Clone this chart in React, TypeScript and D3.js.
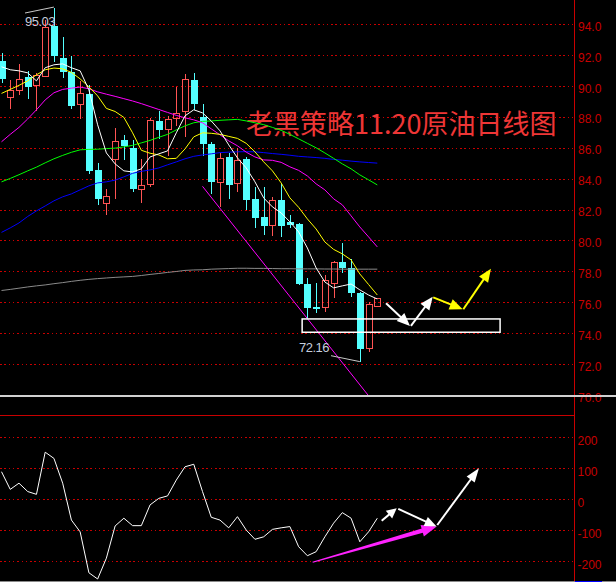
import React from 'react';
import * as d3 from 'd3';

const W = 616;
const H = 582;

// Daily crude oil bars (oldest first)
const opens = [91.62, 89.24, 89.70, 90.56, 90.05, 90.60, 93.88, 91.79, 90.89, 88.82, 89.46, 84.56, 82.41, 85.26, 86.50, 85.99, 83.31, 83.64, 87.73, 87.20, 87.90, 88.34, 90.39, 88.01, 86.23, 83.77, 85.38, 83.66, 85.28, 82.69, 81.54, 80.94, 82.62, 81.22, 81.05, 77.18, 75.72, 75.65, 77.23, 78.63, 78.20, 76.62, 73.02, 75.72];
const highs = [92.12, 90.39, 91.40, 90.93, 90.86, 94.23, 95.03, 93.19, 91.94, 90.32, 90.06, 85.02, 83.31, 87.26, 86.83, 86.50, 85.26, 87.90, 88.38, 88.06, 89.94, 90.76, 90.82, 88.83, 86.36, 85.64, 85.64, 86.01, 85.38, 83.44, 83.44, 82.83, 83.64, 81.65, 81.11, 77.55, 77.23, 77.77, 78.69, 79.82, 78.78, 76.69, 76.04, 76.30];
const lows = [90.17, 88.49, 89.42, 89.14, 88.34, 90.58, 91.51, 90.50, 88.49, 87.84, 84.30, 82.30, 81.65, 82.70, 85.21, 83.14, 82.41, 83.43, 86.54, 85.47, 87.37, 86.72, 88.45, 85.47, 83.01, 82.19, 82.67, 83.16, 81.97, 80.83, 80.36, 80.29, 80.21, 80.79, 77.12, 74.96, 75.29, 75.39, 76.30, 77.88, 76.36, 72.16, 72.80, 75.70];
const closes = [90.43, 89.68, 90.39, 89.95, 90.65, 93.80, 91.90, 90.89, 88.71, 89.53, 84.50, 82.67, 82.83, 86.40, 86.08, 83.33, 83.56, 87.78, 87.15, 87.80, 88.23, 90.43, 88.83, 86.21, 83.77, 85.32, 83.59, 85.17, 82.62, 81.44, 80.94, 82.56, 80.94, 81.00, 77.18, 75.65, 75.57, 77.38, 78.56, 78.24, 76.62, 72.98, 75.83, 76.26];

// Moving averages
const maWhite = [91.23, 91.04, 90.97, 90.84, 90.32, 91.17, 91.36, 91.42, 91.17, 90.97, 89.74, 87.48, 85.66, 84.95, 84.50, 84.43, 84.63, 85.40, 85.60, 85.79, 86.96, 88.06, 88.45, 88.25, 87.73, 87.09, 86.18, 85.34, 84.69, 83.79, 82.75, 82.17, 81.78, 81.20, 80.55, 79.51, 78.22, 77.31, 76.93, 77.06, 77.18, 76.80, 76.47, 76.21];
const maYellow = [89.51, 89.77, 90.03, 90.32, 90.71, 91.04, 91.15, 91.10, 90.87, 90.45, 89.94, 89.35, 88.54, 88.34, 87.96, 86.96, 85.83, 85.64, 85.53, 85.28, 85.31, 85.92, 86.70, 86.96, 86.93, 86.86, 86.73, 86.60, 86.28, 85.73, 85.08, 84.50, 83.72, 82.75, 82.14, 81.39, 80.74, 79.90, 79.42, 79.13, 78.74, 77.83, 77.15, 76.47];
const maMagenta = [86.38, 86.86, 87.31, 87.86, 88.45, 89.09, 89.55, 89.77, 89.85, 89.92, 89.81, 89.61, 89.46, 89.32, 89.17, 89.02, 88.85, 88.66, 88.47, 88.28, 88.09, 87.93, 87.80, 87.61, 87.22, 86.83, 86.44, 86.12, 85.71, 85.40, 85.21, 85.18, 85.05, 84.76, 84.53, 84.17, 83.66, 83.27, 82.69, 82.30, 81.59, 80.87, 80.23, 79.58];
const maGreen = [83.79, 84.01, 84.25, 84.50, 84.74, 85.02, 85.28, 85.50, 85.70, 85.86, 85.89, 85.90, 85.94, 85.97, 86.05, 86.15, 86.31, 86.47, 86.67, 86.86, 87.15, 87.41, 87.61, 87.70, 87.73, 87.77, 87.80, 87.83, 87.73, 87.61, 87.49, 87.31, 87.12, 86.86, 86.57, 86.28, 85.99, 85.66, 85.31, 84.95, 84.63, 84.24, 83.92, 83.59];
const maBlue = [80.52, 80.81, 81.13, 81.55, 81.91, 82.23, 82.56, 82.82, 83.01, 83.27, 83.53, 83.72, 83.79, 83.90, 84.11, 84.34, 84.47, 84.56, 84.69, 84.89, 85.08, 85.28, 85.44, 85.53, 85.60, 85.68, 85.71, 85.73, 85.74, 85.73, 85.68, 85.62, 85.57, 85.51, 85.44, 85.40, 85.36, 85.31, 85.24, 85.19, 85.13, 85.08, 85.04, 85.00];
const maGrey = [76.76, 76.83, 76.91, 76.99, 77.06, 77.12, 77.20, 77.27, 77.35, 77.42, 77.48, 77.53, 77.57, 77.61, 77.64, 77.67, 77.73, 77.80, 77.86, 77.93, 77.99, 78.06, 78.09, 78.10, 78.14, 78.16, 78.18, 78.20, 78.20, 78.19, 78.19, 78.18, 78.17, 78.17, 78.16, 78.16, 78.16, 78.15, 78.15, 78.14, 78.14, 78.14, 78.14, 78.14];

// Oscillator (lower pane)
const osc = [89, 32, 52, 25, 16, 152, 132, 52, -67, -105, -237, -257, -190, -86, -61, -85, -85, -18, 3, 11, 62, 105, 113, 25, -58, -67, -92, -56, -99, -129, -121, -97, -92, -88, -153, -182, -169, -121, -77, -43, -61, -137, -105, -61];

const priceTicks = [94, 92, 90, 88, 86, 84, 82, 80, 78, 76, 74, 72, 70];
const oscTicks = [200, 100, 0, -100, -200];

const titleText = '老黑策略11.20原油日线图';
const highText = '95.03';
const lowText = '72.16';

// Drawn annotations, in (bar index, price) / (bar index, oscillator value)
const supportZone = { from: 34.4, to: 57.05, low: 74.06, high: 74.92 };
const channel: [number, number][] = [[23, 83.5], [42, 69.95]];
const priceArrows = [
  { color: '#ffffff', from: [44.0, 75.94], to: [46.74, 74.47] },
  { color: '#ffffff', from: [46.85, 74.47], to: [49.34, 76.36] },
  { color: '#ffff00', from: [49.4, 76.32], to: [52.77, 75.55] },
  { color: '#ffff00', from: [52.84, 75.55], to: [56.0, 78.16] },
];
const oscArrows = [
  { color: '#ffffff', from: [43.5, -69], to: [45.22, -29], head: 10 },
  { color: '#ffffff', from: [45.4, -31], to: [49.79, -88], head: 12 },
  { color: '#ffffff', from: [49.86, -83], to: [54.63, 100], head: 14 },
];
const oscTrendArrow = { color: '#ff22ff', from: [35.6, -203], to: [49.79, -88] };

const RED = '#c80000';
const UP = '#ff5454';
const DOWN = '#54ffff';

const x = d3.scaleLinear().domain([0, 43]).range([1.5, 377.3]);
const yP = d3.scaleLinear().domain([70, 94]).range([395, 24]);
const yO = d3.scaleLinear().domain([-200, 200]).range([561.3, 437.3]);

function arrowShapes(p0: number[], p1: number[], color: string, width: number, headLen: number, headHalf: number, taper = false) {
  const dx = p1[0] - p0[0];
  const dy = p1[1] - p0[1];
  const len = Math.hypot(dx, dy);
  const ux = dx / len, uy = dy / len;
  const nx = -uy, ny = ux;
  const bx = p1[0] - ux * headLen, by = p1[1] - uy * headLen;
  const head = `${p1[0]},${p1[1]} ${bx + nx * headHalf},${by + ny * headHalf} ${bx - nx * headHalf},${by - ny * headHalf}`;
  if (taper) {
    const w0 = 0.6, w1 = width;
    const shaft = `${p0[0] + nx * w0},${p0[1] + ny * w0} ${bx + ux + nx * w1},${by + uy + ny * w1} ${bx + ux - nx * w1},${by + uy - ny * w1} ${p0[0] - nx * w0},${p0[1] - ny * w0}`;
    return (
      <g>
        <polygon points={shaft} fill={color} />
        <polygon points={head} fill={color} />
      </g>
    );
  }
  return (
    <g>
      <line x1={p0[0]} y1={p0[1]} x2={bx + ux * 2} y2={by + uy * 2} stroke={color} strokeWidth={width} />
      <polygon points={head} fill={color} />
    </g>
  );
}

export default function App() {
  const priceLine = d3.line<number>().x((_, i) => x(i)).y((d) => yP(d));
  const oscLine = d3.line<number>().x((_, i) => x(i)).y((d) => yO(d));

  const maSeries = [
    { data: maGrey, color: '#8a8a8a' },
    { data: maBlue, color: '#0000ff' },
    { data: maGreen, color: '#00ff00' },
    { data: maMagenta, color: '#ff00ff' },
    { data: maYellow, color: '#ffff00' },
    { data: maWhite, color: '#ffffff' },
  ];

  const hiIdx = highs.indexOf(d3.max(highs) as number);
  const loIdx = lows.indexOf(d3.min(lows) as number);

  return (
    <svg width={W} height={H} style={{ position: 'fixed', left: 0, top: 0, display: 'block', background: '#000' }}>
      <defs>
        <clipPath id="mainClip"><rect x={0} y={0} width={574} height={396} /></clipPath>
        <clipPath id="oscClip"><rect x={0} y={416} width={574} height={165} /></clipPath>
      </defs>
      <rect x={0} y={0} width={W} height={H} fill="#000" />

      {/* price grid */}
      {priceTicks.filter((t) => t > 70).map((t) => (
        <line key={t} x1={0} x2={574} y1={Math.round(yP(t)) + 0.5} y2={Math.round(yP(t)) + 0.5}
          stroke={RED} strokeWidth={1} strokeDasharray="1.5 2.8" shapeRendering="crispEdges" />
      ))}

      {/* oscillator grid */}
      {oscTicks.map((t) => (
        <line key={t} x1={0} x2={574} y1={Math.round(yO(t)) + 0.5} y2={Math.round(yO(t)) + 0.5}
          stroke={RED} strokeWidth={1} strokeDasharray="1.5 2.8" shapeRendering="crispEdges" />
      ))}

      <text x={246} y={134} fill="#ee3636" fontSize={27} fontFamily="'Noto Sans CJK SC', sans-serif">{titleText}</text>

      <g clipPath="url(#mainClip)">
        {/* candles */}
        {opens.map((o, i) => {
          const c = closes[i];
          const cx = Math.round(x(i)) + 0.5;
          const up = c >= o;
          const top = yP(Math.max(o, c));
          const bot = yP(Math.min(o, c));
          if (up) {
            return (
              <g key={i} shapeRendering="crispEdges">
                <line x1={cx} x2={cx} y1={yP(highs[i])} y2={top} stroke={UP} />
                <line x1={cx} x2={cx} y1={bot} y2={yP(lows[i])} stroke={UP} />
                <rect x={cx - 3} y={top} width={6} height={Math.max(1, bot - top)} fill="none" stroke={UP} strokeWidth={1} />
              </g>
            );
          }
          return (
            <g key={i} shapeRendering="crispEdges">
              <line x1={cx} x2={cx} y1={yP(highs[i])} y2={yP(lows[i])} stroke={DOWN} />
              <rect x={cx - 3.5} y={top} width={7} height={Math.max(1, bot - top)} fill={DOWN} />
            </g>
          );
        })}

        {maSeries.map((s, k) => (
          <path key={k} d={priceLine(s.data) || ''} fill="none" stroke={s.color} strokeWidth={1} />
        ))}

        {/* channel line */}
        <line x1={x(channel[0][0])} y1={yP(channel[0][1])} x2={x(channel[1][0])} y2={yP(channel[1][1])}
          stroke="#ff00ff" strokeWidth={1} />

        {/* support zone */}
        <rect x={x(supportZone.from)} y={yP(supportZone.high)} width={x(supportZone.to) - x(supportZone.from)}
          height={yP(supportZone.low) - yP(supportZone.high)} fill="none" stroke="#ffffff" strokeWidth={1.5} />

        {priceArrows.map((a, k) => (
          <g key={k}>{arrowShapes([x(a.from[0]), yP(a.from[1])], [x(a.to[0]), yP(a.to[1])], a.color, 2, 13, 5.5)}</g>
        ))}

        {/* high / low markers */}
        <line x1={25} y1={13} x2={x(hiIdx)} y2={yP(highs[hiIdx]) - 1} stroke="#c8c8c8" strokeWidth={1} />
        <text x={25} y={25.7} fill="#c4ccdc" fontSize={13} letterSpacing={-0.5} fontFamily="'Liberation Sans', Arial, sans-serif">{highText}</text>
        <line x1={331} y1={355.7} x2={x(loIdx)} y2={yP(lows[loIdx])} stroke="#c8c8c8" strokeWidth={1} />
        <text x={299} y={351.7} fill="#c4ccdc" fontSize={13} letterSpacing={-0.5} fontFamily="'Liberation Sans', Arial, sans-serif">{lowText}</text>
      </g>

      {/* oscillator pane */}
      <g clipPath="url(#oscClip)">
        <path d={oscLine(osc) || ''} fill="none" stroke="#ffffff" strokeWidth={1} />
        {arrowShapes([x(oscTrendArrow.from[0]), yO(oscTrendArrow.from[1])], [x(oscTrendArrow.to[0]), yO(oscTrendArrow.to[1])], oscTrendArrow.color, 2.2, 15, 6, true)}
        {oscArrows.map((a, k) => (
          <g key={k}>{arrowShapes([x(a.from[0]), yO(a.from[1])], [x(a.to[0]), yO(a.to[1])], a.color, 2, a.head, 5)}</g>
        ))}
      </g>

      {/* axes */}
      {priceTicks.map((t) => (
        <text key={t} x={578} y={yP(t) + 6.7} fill={RED} fontSize={12} fontFamily="'Liberation Sans', Arial, sans-serif">{t.toFixed(1)}</text>
      ))}
      {oscTicks.map((t) => (
        <text key={t} x={577.5} y={yO(t) + 7.5} fill={RED} fontSize={12} fontFamily="'Liberation Sans', Arial, sans-serif">{t}</text>
      ))}
      <line x1={574.5} x2={574.5} y1={0} y2={H} stroke={RED} strokeWidth={1} shapeRendering="crispEdges" />
      <line x1={0} x2={574.5} y1={415.5} y2={415.5} stroke={RED} strokeWidth={1} shapeRendering="crispEdges" />
      <line x1={0} x2={W} y1={396} y2={396} stroke="#d0d0d0" strokeWidth={1.5} shapeRendering="crispEdges" />
      <line x1={0} x2={W} y1={581.5} y2={581.5} stroke="#8a8a8a" strokeWidth={1} shapeRendering="crispEdges" />
      <line x1={575} x2={602} y1={581.5} y2={581.5} stroke="#0000ff" strokeWidth={1} shapeRendering="crispEdges" />
    </svg>
  );
}
